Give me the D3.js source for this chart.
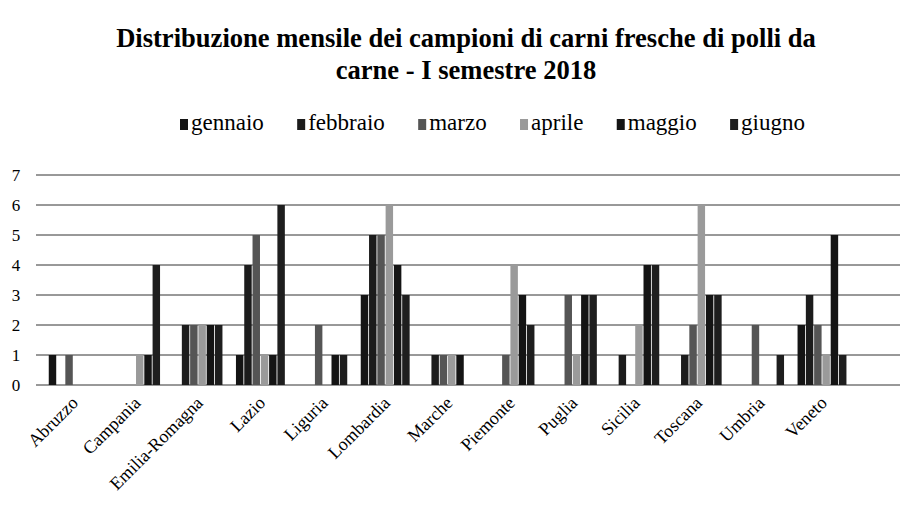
<!DOCTYPE html>
<html><head><meta charset="utf-8">
<script src="https://cdn.jsdelivr.net/npm/d3@7"></script>
<style>body{margin:0;background:#fff}svg{display:block}</style>
</head><body>
<svg id="c" width="905" height="513"></svg>
<script>
const categories = ["Abruzzo","Campania","Emilia-Romagna","Lazio","Liguria","Lombardia","Marche","Piemonte","Puglia","Sicilia","Toscana","Umbria","Veneto"];
const months = ["gennaio","febbraio","marzo","aprile","maggio","giugno"];
const gennaio  = [1,0,0,1,0,3,0,0,0,0,0,0,2];
const febbraio = [0,0,2,4,0,5,1,0,0,1,1,0,3];
const marzo    = [1,0,2,5,2,5,1,1,3,0,2,2,2];
const aprile   = [0,1,2,1,0,6,1,4,1,2,6,0,1];
const maggio   = [0,1,2,1,1,4,1,3,3,4,3,0,5];
const giugno   = [0,4,2,6,1,3,0,2,3,4,3,1,1];
const yTicks = [0,1,2,3,4,5,6,7];
const titleLines = ["Distribuzione  mensile dei campioni di carni fresche di polli da","carne - I semestre 2018"];

const series = [gennaio,febbraio,marzo,aprile,maggio,giugno];
const colors = ["#141414","#1c1c1c","#555555","#9a9a9a","#141414","#1e1e1e"];
const serif = "Liberation Serif, Times New Roman, serif";

const svg = d3.select("#c");
const y = d3.scaleLinear().domain([0,7]).range([385,175]);
const x0 = d3.scaleBand().domain(categories).range([42, 42+13*62.4]).paddingInner(0.19).paddingOuter(0.095);
const x1 = d3.scaleBand().domain(months).range([0, x0.bandwidth()]).padding(0.1);
const color = d3.scaleOrdinal().domain(months).range(colors);

// title
const tt = svg.selectAll("text.title").data(titleLines).enter().append("text")
  .attr("class","title")
  .attr("x",466).attr("y",(d,i)=>47+i*32)
  .attr("text-anchor","middle")
  .attr("font-family",serif).attr("font-weight","bold").attr("font-size",22)
  .text(d=>d);
const w0 = tt.nodes()[0].getComputedTextLength();
const fs = 22*700/w0;
tt.attr("font-size",fs);

// gridlines
svg.append("g").selectAll("line").data(yTicks).enter().append("line")
  .attr("x1",36).attr("x2",900)
  .attr("y1",d=>y(d)).attr("y2",d=>y(d))
  .attr("stroke","#333").attr("stroke-width",1);

// y labels
svg.append("g").selectAll("text").data(yTicks).enter().append("text")
  .attr("x",16).attr("y",d=>y(d)+6)
  .attr("text-anchor","middle")
  .attr("font-family",serif).attr("font-size",17)
  .text(d=>d);

// bars
const g = svg.append("g");
categories.forEach((c,ci)=>{
  months.forEach((m,mi)=>{
    const v = series[mi][ci];
    if(v>0){
      g.append("rect")
        .attr("x",x0(c)+x1(m)).attr("width",x1.bandwidth())
        .attr("y",y(v)).attr("height",y(0)-y(v))
        .attr("fill",color(m));
    }
  });
});

// x labels
svg.append("g").selectAll("text").data(categories).enter().append("text")
  .attr("transform",d=>`translate(${x0(d)+x0.bandwidth()/2+6},${404}) rotate(-45)`)
  .attr("text-anchor","end")
  .attr("font-family",serif).attr("font-size",18)
  .text(d=>d);

// legend
const leg = svg.append("g").attr("transform","translate(180,130)");
const items = months.map(m=>{
  const gi = leg.append("g");
  gi.append("rect").attr("x",0).attr("y",-11).attr("width",8).attr("height",11).attr("fill",color(m));
  const t = gi.append("text").attr("x",11).attr("y",0)
    .attr("font-family",serif).attr("font-size",23).text(m);
  return {gi, w: 11 + t.node().getComputedTextLength()};
});
const totalW = d3.sum(items, d=>d.w);
const gap = (625 - totalW)/5;
let lx = 0;
items.forEach(it=>{ it.gi.attr("transform",`translate(${lx},0)`); lx += it.w + gap; });
</script>
</body></html>
